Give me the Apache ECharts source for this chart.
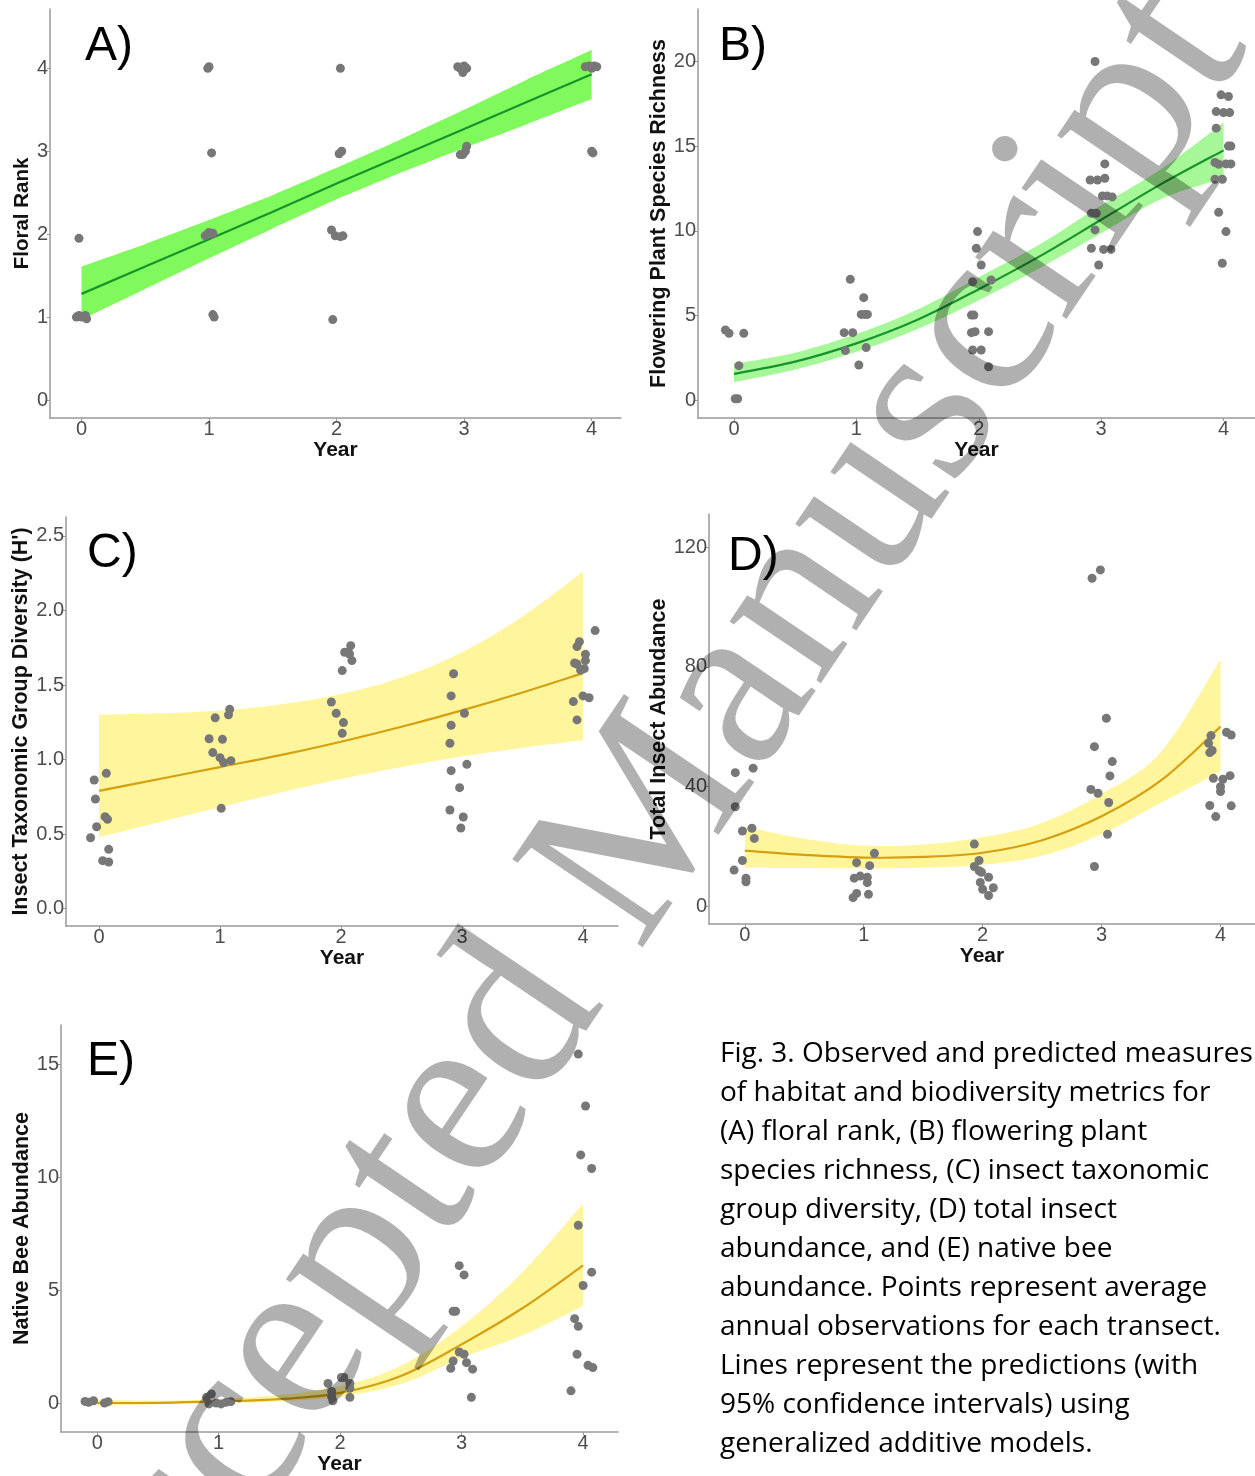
<!DOCTYPE html>
<html>
<head>
<meta charset="utf-8">
<script src="https://cdn.jsdelivr.net/npm/echarts@6/dist/echarts.min.js"></script>
<style>
html,body{margin:0;padding:0;background:#fff;}
#chart{width:1255px;height:1476px;}
</style>
</head>
<body>
<div id="chart"></div>
<script>
// ---------- Data ----------
const yearTicks = [0, 1, 2, 3, 4];
const fitX = [0, 0.5, 1, 1.5, 2, 2.5, 3, 3.5, 4];

// A) Floral rank
const aTicks = [0, 1, 2, 3, 4];
const aPtsX = [-0.04,-0.02,0.0,0.03,0.04,-0.02, 0.99,1.0,1.02, 0.97,0.99,1.0,1.02,1.03, 1.03,1.04, 2.03,2.02,2.04, 1.96,1.99,2.03,2.05, 1.97, 2.95,2.97,3.0,3.02,2.99, 2.97,2.99,3.01,3.02, 3.95,3.98,4.0,4.02,4.04, 4.0,4.01];
const aPtsY = [1.0,1.02,1.0,1.02,0.98,1.95, 4.0,4.02,2.98, 1.98,2.0,2.02,2.0,2.01, 1.03,1.0, 4.0,2.97,3.0, 2.05,1.98,1.97,1.98, 0.97, 4.02,4.0,4.03,4.0,3.95, 2.96,2.96,3.0,3.06, 4.02,4.03,4.0,4.03,4.02, 3.0,2.98];
const aFit = [1.28,1.61,1.94,2.27,2.61,2.94,3.27,3.60,3.93];
const aLow = [0.97,1.34,1.71,2.07,2.42,2.74,3.04,3.33,3.63];
const aUp  = [1.61,1.88,2.17,2.47,2.80,3.14,3.50,3.87,4.22];

// B) Flowering plant species richness
const bTicks = [0, 5, 10, 15, 20];
const bPtsX = [-0.07,-0.04,0.08,0.04,0.01,0.03, 0.9,0.97,0.95,1.06,1.04,1.07,1.09,0.91,1.08,1.02, 1.99,1.98,2.02,1.95,2.1,1.94,1.96,1.94,1.97,1.95,2.02,2.08,2.08, 2.95,2.91,2.97,3.03,3.03,2.92,2.96,3.01,3.09,3.05,2.95,2.92,3.02,3.08,2.98, 3.98,4.04,3.94,4.0,4.05,3.94,4.04,4.06,3.93,3.96,4.02,4.06,3.93,3.99,3.96,4.02,3.99];
const bPtsY = [4.14,3.94,3.94,2.03,0.08,0.08, 3.98,3.98,7.13,6.05,5.06,5.06,5.06,2.92,3.1,2.07, 9.95,8.96,7.98,6.99,7.09,5.02,5.02,3.98,4.04,2.96,2.96,4.04,1.97, 20.0,13.0,13.0,13.1,13.95,11.03,11.03,12.06,12.0,12.06,10.05,8.97,8.9,8.9,7.98, 18.03,17.93,17.04,16.98,16.98,16.06,15.0,15.0,14.03,13.93,13.95,13.95,13.04,13.04,11.09,9.95,8.08];
const bFit = [1.55,2.27,3.35,4.75,6.55,8.5,10.65,12.8,14.75];
const bLow = [1.05,1.8,2.85,4.2,5.9,7.8,9.85,11.9,13.1];
const bUp  = [2.15,2.8,3.9,5.35,7.25,9.2,11.5,13.7,16.4];

// C) Insect taxonomic group diversity (H')
const cTicks = [0, 0.5, 1.0, 1.5, 2.0, 2.5];
const cPtsX = [-0.07,-0.04,-0.03,-0.02,0.03,0.08,0.08,0.06,0.05,0.07, 0.91,0.96,0.94,1.0,1.02,1.03,1.09,1.07,1.08,1.01, 1.92,1.96,2.02,2.01,2.01,2.03,2.06,2.08,2.07,2.09, 2.93,2.91,2.91,3.02,2.9,2.91,3.04,2.98,2.9,3.01,2.99, 3.95,3.97,4.1,3.93,3.95,4.02,4.02,4.01,3.98,3.92,4.0,4.05,3.95];
const cPtsY = [0.476,0.863,0.736,0.55,0.322,0.313,0.398,0.908,0.617,0.6, 1.14,1.28,1.047,1.013,1.136,0.98,0.993,1.30,1.337,0.673, 1.386,1.31,1.248,1.176,1.597,1.72,1.72,1.764,1.708,1.664, 1.576,1.427,1.23,1.31,1.11,0.926,0.968,0.812,0.662,0.615,0.541, 1.758,1.79,1.865,1.648,1.641,1.706,1.664,1.61,1.60,1.389,1.427,1.415,1.266];
const cFit = [0.79,0.87,0.95,1.03,1.12,1.22,1.33,1.45,1.58];
const cLow = [0.48,0.58,0.68,0.78,0.87,0.95,1.02,1.08,1.13];
const cUp  = [1.30,1.31,1.33,1.37,1.44,1.55,1.72,1.96,2.26];

// D) Total insect abundance
const dTicks = [0, 40, 80, 120];
const dPtsX = [-0.08,0.07,-0.08,-0.02,0.06,0.08,-0.02,-0.09,0.01,0.01, 0.94,1.09,1.05,0.92,0.97,1.03,1.03,0.91,0.94,1.04, 1.93,1.97,1.93,1.97,1.99,2.05,1.98,2.0,2.09,2.05, 2.92,2.99,3.04,2.94,3.09,3.07,2.91,2.97,3.06,3.05,2.94, 3.92,4.05,4.09,3.9,3.93,3.91,3.94,4.02,4.08,4.0,4.0,3.91,4.09,3.96];
const dPtsY = [44.6,46.1,33.2,25.1,26.0,22.6,15.2,12.0,9.3,8.1, 14.5,17.6,13.5,9.3,10.0,9.6,7.8,2.8,4.2,3.9, 20.7,15.2,13.2,11.8,11.3,9.6,7.9,5.6,6.1,3.5, 109.6,112.4,62.8,53.3,48.3,43.5,39.0,37.7,34.6,24.0,13.2, 57.0,58.1,57.2,54.4,52.0,51.3,42.7,42.4,43.6,39.9,38.3,33.6,33.5,29.9];
const dFit = [18.5,17.1,16.2,16.4,17.8,22.0,30.0,42.0,60.0];
const dLow = [12.8,12.7,12.6,12.8,13.8,16.8,24.0,34.5,45.0];
const dUp  = [26.5,22.5,20.2,20.6,23.0,27.8,37.5,51.5,82.5];

// E) Native bee abundance
const eTicks = [0, 5, 10, 15];
const ePtsX = [-0.1,-0.07,-0.03,0.06,0.09, 0.9,0.94,0.92,0.98,1.02,1.06,1.1, 1.9,2.01,2.03,1.93,1.93,1.94,2.08,2.08,2.08, 2.93,2.95,2.98,3.02,2.93,2.91,2.98,3.02,3.04,3.09,3.08, 3.96,4.02,3.98,4.07,3.96,4.07,4.0,3.93,3.96,3.95,4.04,4.08,3.9];
const ePtsY = [0.07,0.03,0.1,0.0,0.06, 0.25,0.4,-0.04,0.0,-0.04,0.03,0.06, 0.87,1.13,1.13,0.51,0.28,0.1,0.87,0.65,0.25, 4.07,4.07,6.09,5.68,1.86,1.54,2.26,2.16,1.79,1.5,0.25, 15.47,13.17,11.0,10.4,7.88,5.8,5.21,3.74,3.4,2.16,1.67,1.57,0.54];
const eFit = [0.0,0.01,0.07,0.17,0.45,1.2,2.6,4.2,6.1];
const eLow = [-0.12,-0.05,0.0,0.08,0.28,0.84,2.0,3.0,4.3];
const eUp  = [0.15,0.10,0.18,0.35,0.75,1.65,3.4,5.8,8.85];

const captionLines = [
  "Fig. 3. Observed and predicted measures",
  "of habitat and biodiversity metrics for",
  "(A) floral rank, (B) flowering plant",
  "species richness, (C) insect taxonomic",
  "group diversity, (D) total insect",
  "abundance, and (E) native bee",
  "abundance. Points represent average",
  "annual observations for each transect.",
  "Lines represent the predictions (with",
  "95% confidence intervals) using",
  "generalized additive models."
];
const watermarkText = "Accepted Manuscript";

// ---------- Styling / layout ----------
const NARROW = "'Liberation Sans Narrow', 'Liberation Sans', Arial, sans-serif";
const SANS = "'Liberation Sans', Arial, sans-serif";
const AXIS_COLOR = '#999999';
const LABEL_COLOR = '#4d4d4d';
const POINT_COLOR = '#777777';
const GREEN_A = '#80f95c', GREEN_B = '#a5f797', GREEN_LINE = '#17932c';
const YELLOW_BAND = '#fff59c', YELLOW_LINE = '#d4a00f';

const panels = [
  {letter:'A)', grid:{left:50, top:9, width:571, height:409}, x:[-0.247,4.23], y:[-0.217,4.716],
   yTicks:aTicks, yName:'Floral Rank', yGap:17, nameSize:20.5, fmt:v=>String(v),
   px:aPtsX, py:aPtsY, fit:aFit, lo:aLow, up:aUp, band:GREEN_A, line:GREEN_LINE, smooth:0,
   letterPos:[85,23]},
  {letter:'B)', grid:{left:698, top:9, width:557, height:409}, x:[-0.294,4.257], y:[-1.06,23.1],
   yTicks:bTicks, yName:'Flowering Plant Species Richness', yGap:27, nameSize:21.5, fmt:v=>String(v),
   px:bPtsX, py:bPtsY, fit:bFit, lo:bLow, up:bUp, band:GREEN_B, line:GREEN_LINE, smooth:0.35,
   letterPos:[719,23]},
  {letter:'C)', grid:{left:66, top:517, width:552, height:409}, x:[-0.273,4.289], y:[-0.116,2.627],
   yTicks:cTicks, yName:"Insect Taxonomic Group Diversity (H')", yGap:33, nameSize:21.5, fmt:v=>v.toFixed(1),
   px:cPtsX, py:cPtsY, fit:cFit, lo:cLow, up:cUp, band:YELLOW_BAND, line:YELLOW_LINE, smooth:0.35,
   letterPos:[87,530]},
  {letter:'D)', grid:{left:709, top:514, width:546, height:410}, x:[-0.301,4.29], y:[-6.02,131.1],
   yTicks:dTicks, yName:'Total Insect Abundance', yGap:37, nameSize:21.5, fmt:v=>String(v),
   px:dPtsX, py:dPtsY, fit:dFit, lo:dLow, up:dUp, band:YELLOW_BAND, line:YELLOW_LINE, smooth:0.35,
   letterPos:[728,533]},
  {letter:'E)', grid:{left:61, top:1025, width:557, height:410}, x:[-0.298,4.287], y:[-1.29,16.76],
   yTicks:eTicks, yName:'Native Bee Abundance', yGap:28, nameSize:21.5, fmt:v=>String(v),
   px:ePtsX, py:ePtsY, fit:eFit, lo:eLow, up:eUp, band:YELLOW_BAND, line:YELLOW_LINE, smooth:0.35,
   letterPos:[87,1038]}
];

// smooth path through pixel points (same style of control points as ECharts line smoothing)
function smoothSegments(pts, s) {
  let d = '';
  for (let i = 0; i < pts.length - 1; i++) {
    const prev = pts[i - 1] || pts[i], cur = pts[i], next = pts[i + 1], nn = pts[i + 2] || pts[i + 1];
    const c1 = [cur[0] + (next[0] - prev[0]) * s / 2, cur[1] + (next[1] - prev[1]) * s / 2];
    const c2 = [next[0] - (nn[0] - cur[0]) * s / 2, next[1] - (nn[1] - cur[1]) * s / 2];
    d += ' C' + c1[0] + ' ' + c1[1] + ' ' + c2[0] + ' ' + c2[1] + ' ' + next[0] + ' ' + next[1];
  }
  return d;
}

const grids = [], xAxes = [], yAxes = [], series = [], graphics = [];

panels.forEach((p, i) => {
  grids.push(Object.assign({containLabel:false}, p.grid));
  xAxes.push({
    type:'value', gridIndex:i, min:p.x[0], max:p.x[1], z:10,
    name:'Year', nameLocation:'middle', nameGap:21,
    nameTextStyle:{fontFamily:SANS, fontWeight:'bold', fontSize:21, color:'#111'},
    axisLine:{show:true, onZero:false, lineStyle:{color:AXIS_COLOR, width:1.5}},
    axisTick:{show:true, length:3, customValues:yearTicks, lineStyle:{color:AXIS_COLOR}},
    axisLabel:{customValues:yearTicks, color:LABEL_COLOR, fontSize:20, fontFamily:NARROW, margin:1},
    splitLine:{show:false}
  });
  yAxes.push({
    type:'value', gridIndex:i, min:p.y[0], max:p.y[1], z:10,
    name:p.yName, nameLocation:'middle', nameGap:p.yGap,
    nameTextStyle:{fontFamily:SANS, fontWeight:'bold', fontSize:p.nameSize, color:'#111'},
    axisLine:{show:true, onZero:false, lineStyle:{color:AXIS_COLOR, width:1.5}},
    axisTick:{show:true, length:3, customValues:p.yTicks, lineStyle:{color:AXIS_COLOR}},
    axisLabel:{customValues:p.yTicks, color:LABEL_COLOR, fontSize:20, fontFamily:NARROW, margin:2, formatter:p.fmt},
    splitLine:{show:false}
  });
  const ptData = p.px.map((x, k) => [x, p.py[k]]);
  // confidence band
  series.push({
    type:'custom', xAxisIndex:i, yAxisIndex:i, data:[[0, 0]], silent:true, z:1,
    renderItem:function (params, api) {
      const up = fitX.map((x, k) => api.coord([x, p.up[k]]));
      const lo = fitX.map((x, k) => api.coord([x, p.lo[k]])).reverse();
      let d = 'M' + up[0][0] + ' ' + up[0][1] + smoothSegments(up, p.smooth);
      d += ' L' + lo[0][0] + ' ' + lo[0][1] + smoothSegments(lo, p.smooth) + ' Z';
      return {type:'path', shape:{pathData:d}, style:{fill:p.band, stroke:null}};
    }
  });
  // fitted prediction line
  series.push({
    type:'custom', xAxisIndex:i, yAxisIndex:i, data:[[0, 0]], silent:true, z:3,
    renderItem:function (params, api) {
      const pts = fitX.map((x, k) => api.coord([x, p.fit[k]]));
      const d = 'M' + pts[0][0] + ' ' + pts[0][1] + smoothSegments(pts, p.smooth);
      return {type:'path', shape:{pathData:d}, style:{fill:null, stroke:p.line, lineWidth:2.2}};
    }
  });
  series.push({
    type:'scatter', xAxisIndex:i, yAxisIndex:i, data:ptData,
    symbolSize:9, itemStyle:{color:POINT_COLOR, opacity:1}, silent:true, z:4
  });
  graphics.push({
    type:'text', left:p.letterPos[0], top:p.letterPos[1], z:50,
    style:{text:p.letter, font:"48px " + NARROW, fill:'#000'}
  });
});

graphics.push({
  type:'text', x:720, y:1035, z:50,
  style:{text:captionLines.join('\n'), font:"28px 'Open Sans', Lato, sans-serif", fill:'#000', lineHeight:39, textAlign:'left', textVerticalAlign:'top'}
});

graphics.push({
  type:'text', x:622, y:865, z:100, rotation:56*Math.PI/180,
  style:{text:watermarkText, font:"240px 'Liberation Serif', 'DejaVu Serif', serif", fill:'rgba(0,0,0,0.31)', textAlign:'center', textVerticalAlign:'middle'}
});

const chart = echarts.init(document.getElementById('chart'), null, {renderer:'canvas'});
chart.setOption({
  animation:false,
  backgroundColor:'#ffffff',
  grid:grids, xAxis:xAxes, yAxis:yAxes, series:series,
  graphic:graphics
});
</script>
</body>
</html>
